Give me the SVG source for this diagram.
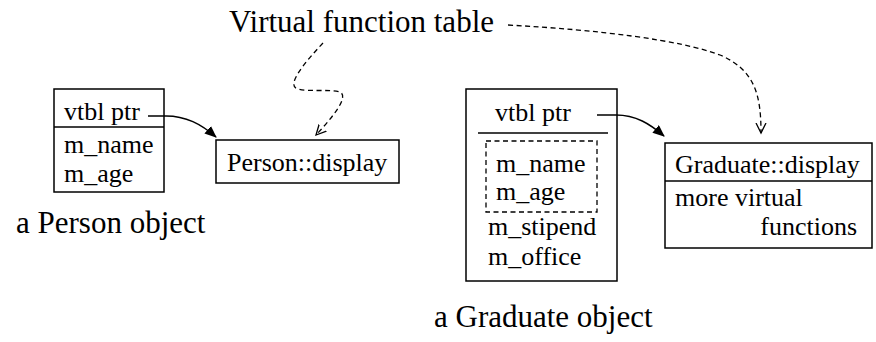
<svg xmlns="http://www.w3.org/2000/svg" width="876" height="342" viewBox="0 0 876 342">
<defs>
<style>
.t{font-family:"Liberation Serif","Times New Roman",serif;font-size:26px;fill:#000}
.c{font-family:"Liberation Serif","Times New Roman",serif;font-size:31px;fill:#000}
.b{fill:#fff;stroke:#000;stroke-width:1.5}
.l{stroke:#000;stroke-width:1.5;fill:none}
.d{stroke:#000;stroke-width:1.3;fill:none;stroke-dasharray:5,3.5}
</style>
<marker id="fa" markerWidth="12" markerHeight="10" refX="11" refY="5" orient="auto" markerUnits="userSpaceOnUse">
<path d="M0,0 L12,5 L0,10 Z" fill="#000"/>
</marker>
<marker id="oa" markerWidth="12" markerHeight="12" refX="10" refY="6" orient="auto" markerUnits="userSpaceOnUse">
<path d="M0,1 L10,6 L0,11" fill="none" stroke="#000" stroke-width="1.3"/>
</marker>
</defs>
<rect width="876" height="342" fill="#fff"/>

<g id="title">
<text class="c" x="229" y="32">Virtual function table</text>
</g>

<g id="person-object">
<rect class="b" x="54" y="89" width="110" height="103"/>
<line class="l" x1="54" y1="127" x2="164" y2="127"/>
<text class="t" x="64" y="120">vtbl ptr</text>
<text class="t" x="64" y="153">m_name</text>
<text class="t" x="64" y="182">m_age</text>
</g>
<g id="person-caption">
<text class="c" x="16" y="233">a Person object</text>
</g>

<g id="person-display">
<rect class="b" x="216" y="140" width="183" height="43"/>
<text class="t" x="227" y="171">Person::display</text>
</g>

<g id="graduate-object">
<rect class="b" x="466" y="89" width="151" height="192"/>
<line class="l" x1="478" y1="133" x2="608" y2="133"/>
<rect x="486" y="141" width="111" height="71" fill="none" stroke="#000" stroke-width="1.3" stroke-dasharray="5,3.5"/>
<text class="t" x="495" y="121">vtbl ptr</text>
<text class="t" x="496" y="172">m_name</text>
<text class="t" x="496" y="200">m_age</text>
<text class="t" x="488" y="235">m_stipend</text>
<text class="t" x="488" y="265">m_office</text>
</g>
<g id="graduate-caption">
<text class="c" x="434" y="327">a Graduate object</text>
</g>

<g id="graduate-display">
<rect class="b" x="665" y="143" width="207" height="105"/>
<line class="l" x1="665" y1="181" x2="872" y2="181"/>
<text class="t" x="675" y="173">Graduate::display</text>
<text class="t" x="675" y="206">more virtual</text>
<text class="t" x="857" y="235" text-anchor="end">functions</text>
</g>

<g id="connectors">
<path class="l" d="M148,116 L166,116 C186,116 201,124 216,137" marker-end="url(#fa)"/>
<path class="l" d="M597,115 L616,115 C636,115 650,124 664,136" marker-end="url(#fa)"/>
<path class="d" d="M323,43 C305,62 285,86 298,89 C310,92 330,89 340,92 C350,97 330,120 316,135" marker-end="url(#oa)"/>
<path class="d" d="M508,25 C600,30 680,40 720,55 C755,70 761,95 761,133" marker-end="url(#oa)"/>
</g>
</svg>
